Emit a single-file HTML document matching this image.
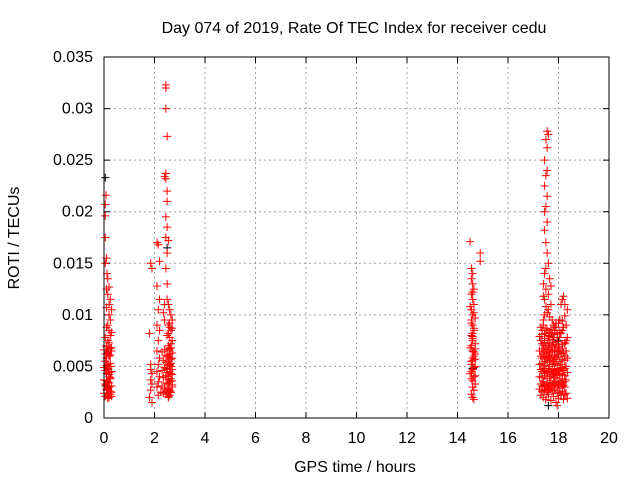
<!DOCTYPE html>
<html><head><meta charset="utf-8"><style>
body{margin:0;background:#fff;}
svg{display:block;font-family:"Liberation Sans",sans-serif;}
</style></head><body>
<svg id="chart" width="640" height="480" xmlns="http://www.w3.org/2000/svg">
<text x="354" y="33" font-size="16" text-anchor="middle">Day 074 of 2019, Rate Of TEC Index for receiver cedu</text>
<text x="355" y="472" font-size="16" text-anchor="middle">GPS time / hours</text>
<text transform="translate(19,238) rotate(-90)" font-size="16" text-anchor="middle">ROTI / TECUs</text>
<g id="grid"></g>
<g id="ticks"></g>
<g id="points"></g>
<rect x="104" y="57" width="505" height="361" fill="none" stroke="#000" stroke-width="1"/>
</svg>
<script>
const xTicks=[0,2,4,6,8,10,12,14,16,18,20];
const yTicks=[0,0.005,0.01,0.015,0.02,0.025,0.03,0.035];
const yTickLabels=["0","0.005","0.01","0.015","0.02","0.025","0.03","0.035"];
const redHours=[
0.05,0.05,0.08,0.05,0.1,0.05,0.12,0.15,0.2,0.1,0.15,0.25,0.2,0.1,0.3,0.2,0.25,0.15,0.1,0.2,0.3,0.25,0.05,0.15,0.2,0.1,0.25,0.3,0.15,0.2,0.1,0.05,0.25,0.2,0.15,0.3,0.1,0.2,0.25,0.15,0.05,0.2,0.1,0.3,0.25,0.15,0.2,0.1,0.2,0.15,
0.0,0.05,0.1,0.15,0.2,0.25,0.3,0.0,0.05,0.1,0.15,0.2,0.25,0.3,0.0,0.05,0.1,0.15,0.2,0.25,0.3,0.0,0.05,0.1,0.15,0.2,0.25,0.3,
1.8,1.85,1.9,1.85,1.9,1.85,1.9,1.85,1.8,1.9,1.85,
2.1,2.15,2.2,2.1,2.2,2.15,2.1,2.2,2.15,2.1,2.2,2.15,2.1,2.2,2.15,2.1,2.25,2.15,
2.45,2.45,2.45,2.5,2.45,2.4,2.45,2.5,2.5,2.45,2.5,2.45,2.55,2.5,2.45,2.5,2.4,2.35,2.4,
2.5,2.55,2.6,2.65,2.7,2.55,2.6,2.65,2.5,2.6,2.7,2.55,2.65,2.6,2.5,2.7,2.55,2.6,2.65,2.5,2.6,2.7,2.55,2.65,2.6,2.5,2.7,2.55,2.6,2.65,2.5,2.6,2.55,2.7,2.6,2.65,2.55,2.6,2.5,2.65,2.6,2.7,
2.3,2.4,2.5,2.6,2.7,2.3,2.4,2.5,2.6,2.7,2.3,2.4,2.5,2.6,2.7,2.35,2.45,2.55,2.65,2.35,2.45,2.55,2.65,2.35,2.45,2.55,2.65,
14.5,14.9,14.9,14.55,14.6,14.55,14.6,14.65,14.55,14.6,14.65,14.55,14.6,14.7,14.55,14.6,14.65,14.55,14.6,14.7,14.55,14.6,14.65,14.6,14.55,14.7,14.6,14.55,14.65,14.6,14.7,14.6,14.65,14.55,14.6,14.65,14.7,14.6,14.65,14.6,
14.5,14.55,14.6,14.65,14.7,14.5,14.55,14.6,14.65,14.7,14.5,14.55,14.6,14.65,14.7,
17.55,17.6,17.5,17.55,17.45,17.55,17.5,17.45,17.55,17.5,17.45,17.55,17.45,17.5,17.55,17.6,17.5,17.45,17.65,17.4,17.7,17.5,17.6,17.4,17.45,17.7,17.5,17.6,17.45,17.55,17.65,17.75,17.4,17.8,17.9,17.85,
17.3,17.35,17.4,17.45,17.5,17.55,17.6,17.65,17.7,17.75,17.8,17.85,17.9,17.95,18.0,18.05,18.1,18.15,18.2,18.25,18.3,
17.3,17.35,17.4,17.45,17.5,17.55,17.6,17.65,17.7,17.75,17.8,17.85,17.9,17.95,18.0,18.05,18.1,18.15,18.2,18.25,18.3,
17.3,17.35,17.4,17.45,17.5,17.55,17.6,17.65,17.7,17.75,17.8,17.85,17.9,17.95,18.0,18.05,18.1,18.15,18.2,18.25,18.3,
17.3,17.35,17.4,17.45,17.5,17.55,17.6,17.65,17.7,17.75,17.8,17.85,17.9,17.95,18.0,18.05,18.1,18.15,18.2,18.25,18.3,
17.3,17.35,17.4,17.45,17.5,17.55,17.6,17.65,17.7,17.75,17.8,17.85,17.9,17.95,18.0,18.05,18.1,18.15,18.2,18.25,18.3,
17.3,17.4,17.5,17.6,17.7,17.8,17.9,18.0,18.1,18.2,18.3,17.35,17.55,17.75,17.95,18.15,18.25,17.45,17.65,17.85,18.05,
17.25,17.35,17.45,17.55,17.65,17.75,17.85,17.95,18.05,18.15,18.25,18.35,
17.25,17.35,17.45,17.55,17.65,17.75,17.85,17.95,18.05,18.15,18.25,18.35,
17.25,17.35,17.45,17.55,17.65,17.75,17.85,17.95,18.05,18.15,18.25,18.35,
17.25,17.35,17.45,17.55,17.65,17.75,17.85,17.95,18.05,18.15,18.25,18.35,
17.25,17.35,17.45,17.55,17.65,17.75,17.85,17.95,18.05,18.15,18.25,18.35
];
const redValues=[
0.0207,0.0175,0.0216,0.0196,0.0155,0.015,0.014,0.0135,0.0127,0.0125,0.012,0.0115,0.011,0.0107,0.0105,0.01,0.0095,0.009,0.0088,0.0085,0.0083,0.008,0.0078,0.0075,0.0073,0.007,0.0068,0.0065,0.0063,0.006,0.0058,0.0055,0.0053,0.005,0.0048,0.0045,0.0043,0.004,0.0038,0.0035,0.0033,0.003,0.0028,0.0025,0.0023,0.0022,0.002,0.0032,0.0042,0.0052,
0.0066,0.0062,0.0069,0.0064,0.0067,0.0061,0.0068,0.0049,0.0046,0.0051,0.0047,0.0044,0.005,0.0045,0.0037,0.0031,0.0036,0.0029,0.0034,0.0039,0.0031,0.0024,0.0021,0.0027,0.0019,0.0023,0.0026,0.0021,
0.0082,0.015,0.0145,0.0052,0.0043,0.0037,0.0033,0.0027,0.002,0.0015,0.0047,
0.017,0.0168,0.0152,0.0128,0.0115,0.0105,0.009,0.0085,0.0075,0.0065,0.0058,0.0052,0.0045,0.004,0.0035,0.003,0.0025,0.0022,
0.0323,0.032,0.03,0.0273,0.0237,0.0234,0.0232,0.022,0.021,0.0195,0.0185,0.0175,0.0172,0.016,0.0145,0.013,0.011,0.0102,0.0095,
0.0115,0.011,0.0105,0.01,0.0095,0.009,0.0088,0.0085,0.008,0.0078,0.0075,0.007,0.0068,0.0065,0.006,0.0058,0.0055,0.0052,0.005,0.0048,0.0045,0.0042,0.004,0.0038,0.0035,0.0033,0.003,0.0028,0.0026,0.0025,0.0023,0.0022,0.002,0.0036,0.0062,0.0072,0.0082,0.0092,0.0047,0.0057,0.0067,0.0087,
0.0064,0.0066,0.0061,0.0068,0.0063,0.0046,0.0049,0.0044,0.0051,0.0047,0.0031,0.0029,0.0034,0.0027,0.0032,0.0056,0.0054,0.0059,0.0053,0.0039,0.0041,0.0037,0.0043,0.0024,0.0026,0.0021,0.0025,
0.0171,0.016,0.0152,0.0145,0.014,0.0135,0.013,0.0125,0.012,0.0115,0.011,0.0105,0.01,0.0097,0.0095,0.009,0.0085,0.008,0.0075,0.0072,0.007,0.0065,0.006,0.0058,0.0055,0.005,0.0047,0.0045,0.004,0.0036,0.0033,0.003,0.0027,0.0023,0.002,0.0018,0.0062,0.0082,0.0102,0.0122,
0.0108,0.0092,0.0077,0.0087,0.0067,0.0068,0.0052,0.0079,0.0064,0.0057,0.0043,0.0038,0.0056,0.0049,0.0041,
0.0278,0.0275,0.027,0.0262,0.025,0.024,0.0235,0.0225,0.0215,0.0205,0.02,0.019,0.0182,0.017,0.016,0.015,0.0145,0.014,0.0135,0.013,0.0128,0.0125,0.012,0.0118,0.0115,0.011,0.0108,0.0105,0.01,0.0102,0.0098,0.0095,0.0095,0.009,0.0092,0.0088,
0.0088,0.0085,0.009,0.0082,0.0087,0.0085,0.008,0.0083,0.0086,0.0082,0.0078,0.0085,0.0088,0.0082,0.0092,0.0095,0.011,0.0115,0.0118,0.011,0.009,
0.0075,0.0072,0.007,0.0073,0.0068,0.0075,0.007,0.0072,0.0068,0.007,0.0073,0.0066,0.0071,0.0074,0.0069,0.0078,0.0082,0.0085,0.0088,0.0072,0.0075,
0.006,0.0058,0.0062,0.0055,0.0059,0.0057,0.006,0.0056,0.0058,0.0061,0.0055,0.0059,0.0057,0.006,0.0062,0.0065,0.0062,0.0067,0.0063,0.006,0.0065,
0.0047,0.0045,0.0048,0.0043,0.0046,0.0044,0.0048,0.0045,0.0042,0.0047,0.0044,0.0046,0.0043,0.0048,0.0045,0.0047,0.0052,0.0049,0.0046,0.0048,0.005,
0.0033,0.0031,0.0035,0.0032,0.003,0.0034,0.0031,0.0033,0.0036,0.003,0.0034,0.0032,0.0035,0.0031,0.0033,0.0036,0.0034,0.0038,0.0032,0.0035,0.0037,
0.0022,0.002,0.0018,0.0023,0.0017,0.0021,0.0015,0.0019,0.0022,0.0018,0.0024,0.0026,0.0025,0.0027,0.0024,0.0026,0.0023,0.0028,0.0029,0.0027,0.0025,
0.0079,0.0081,0.0077,0.0064,0.0079,0.0076,0.0081,0.0078,0.0083,0.0094,0.0099,0.0105,
0.0065,0.0067,0.0064,0.0066,0.0063,0.0065,0.0068,0.0064,0.0069,0.0071,0.0073,0.0078,
0.0052,0.0053,0.0051,0.0054,0.005,0.0052,0.0053,0.0051,0.0055,0.0057,0.0056,0.0058,
0.004,0.0039,0.0041,0.0038,0.004,0.0042,0.0039,0.0041,0.0043,0.0042,0.0041,0.0044,
0.0028,0.0026,0.0027,0.0025,0.0028,0.0026,0.0027,0.0012,0.0029,0.0031,0.003,0.0019
];
const blackHours=[0.05,0.1,0.2,2.5,2.6,14.6,17.6,17.8,18.0,2.55,0.15];
const blackValues=[0.0233,0.0062,0.0034,0.0165,0.0052,0.0048,0.0012,0.0042,0.0075,0.0025,0.0028];

const X0=104,X1=609,Y0=418,Y1=57;
const xs=h=>X0+(h-0)/(20-0)*(X1-X0);
const ys=v=>Y0-(v-0)/(0.035-0)*(Y0-Y1);
const NS='http://www.w3.org/2000/svg';
const grid=document.getElementById('grid'),ticks=document.getElementById('ticks'),pts=document.getElementById('points');
function mk(tag,attrs,parent){const e=document.createElementNS(NS,tag);for(const k in attrs)e.setAttribute(k,attrs[k]);parent.appendChild(e);return e;}
xTicks.forEach(t=>{
  const x=xs(t);
  if(t>0&&t<20){const g=mk('line',{x1:x,x2:x,y1:Y1,y2:Y0,stroke:'#a0a0a0','stroke-dasharray':'2,3','stroke-width':1},grid);
  
  }
  const tk=mk('path',{d:`M${x},${Y0}v-6M${x},${Y1}v6`,stroke:'#000'},ticks);
  
  
  const l=mk('text',{x:x,y:443,'font-size':16,'text-anchor':'middle'},ticks);l.textContent=t;
  
  
});
yTicks.forEach((t,i)=>{
  const y=ys(t);
  if(i>0&&i<yTicks.length-1){const g=mk('line',{x1:X0,x2:X1,y1:y,y2:y,stroke:'#a0a0a0','stroke-dasharray':'2,3','stroke-width':1},grid);
  
  }
  const tk=mk('path',{d:`M${X0},${y}h6M${X1},${y}h-6`,stroke:'#000'},ticks);
  
  
  const l=mk('text',{x:93,y:y+5,'font-size':16,'text-anchor':'end'},ticks);l.textContent=yTickLabels[i];
  
  
});
function plus(h,v,c){
  const x=xs(h),y=ys(v);
  const p=mk('path',{d:`M${x-4},${y}h8M${x},${y-4}v8`,stroke:c,'stroke-width':1,fill:'none'},pts);
  
  
}
blackHours.forEach((h,i)=>plus(h,blackValues[i],'#000'));
redHours.forEach((h,i)=>plus(h,redValues[i],'#ff0000'));
</script>
</body></html>
